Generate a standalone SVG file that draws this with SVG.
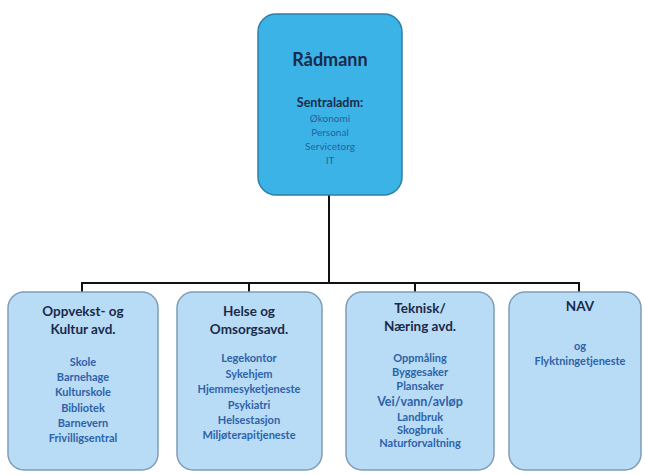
<svg xmlns="http://www.w3.org/2000/svg" width="645" height="475" viewBox="0 0 645 475">
<style>
.top{fill:#3bb3e6;stroke:#2f7fa6;stroke-width:1.5}
.box{fill:#b9dcf6;stroke:#7f9cb8;stroke-width:1.5}
.ttl{font-family:Lato,"Liberation Sans",sans-serif;font-weight:bold;fill:#1a2a4a;text-anchor:middle;font-size:13.5px}
.itm{font-family:Lato,"Liberation Sans",sans-serif;font-weight:bold;fill:#2e62a8;font-size:11px;text-anchor:middle}
.sub{font-family:Lato,"Liberation Sans",sans-serif;fill:#2a5f9e;font-size:10px;text-anchor:middle}
.con{stroke:#111;stroke-width:2;fill:none}
</style>
<rect width="645" height="475" fill="#fff"/>
<g id="connectors">
<path class="con" d="M329,195 V283 M82,283 H579 M82,282 V292 M249,282 V292 M415,282 V292 M579,282 V292"/>
</g>
<g id="radmann">
<rect class="top" x="258" y="14" width="144" height="181" rx="18"/>
<text class="ttl" x="330" y="66" style="font-size:18px">Rådmann</text>
<text class="ttl" x="330" y="107" style="font-size:12.5px">Sentraladm:</text>
<text class="sub" x="330" y="122">Økonomi</text>
<text class="sub" x="330" y="136">Personal</text>
<text class="sub" x="330" y="150">Servicetorg</text>
<text class="sub" x="330" y="164">IT</text>
</g>
<g id="oppvekst">
<rect class="box" x="8" y="292" width="150" height="178" rx="16"/>
<text class="ttl" x="83" y="316">Oppvekst- og</text>
<text class="ttl" x="83" y="334">Kultur avd.</text>
<text class="itm" x="83" y="366">Skole</text>
<text class="itm" x="83" y="381">Barnehage</text>
<text class="itm" x="83" y="396">Kulturskole</text>
<text class="itm" x="83" y="412">Bibliotek</text>
<text class="itm" x="83" y="427">Barnevern</text>
<text class="itm" x="83" y="442">Frivilligsentral</text>
</g>
<g id="helse">
<rect class="box" x="177" y="292" width="145" height="178" rx="16"/>
<text class="ttl" x="249" y="316">Helse og</text>
<text class="ttl" x="249" y="334">Omsorgsavd.</text>
<text class="itm" x="249" y="362">Legekontor</text>
<text class="itm" x="249" y="378">Sykehjem</text>
<text class="itm" x="249" y="393">Hjemmesyketjeneste</text>
<text class="itm" x="249" y="409">Psykiatri</text>
<text class="itm" x="249" y="424">Helsestasjon</text>
<text class="itm" x="249" y="439">Miljøterapitjeneste</text>
</g>
<g id="teknisk">
<rect class="box" x="346" y="292" width="148" height="178" rx="16"/>
<text class="ttl" x="420" y="313">Teknisk/</text>
<text class="ttl" x="420" y="331">Næring avd.</text>
<text class="itm" x="420" y="362">Oppmåling</text>
<text class="itm" x="420" y="376">Byggesaker</text>
<text class="itm" x="420" y="390">Plansaker</text>
<text class="itm" x="420" y="406" style="font-size:12.5px">Vei/vann/avløp</text>
<text class="itm" x="420" y="421">Landbruk</text>
<text class="itm" x="420" y="434">Skogbruk</text>
<text class="itm" x="420" y="447">Naturforvaltning</text>
</g>
<g id="nav">
<rect class="box" x="509" y="292" width="132" height="178" rx="16"/>
<text class="ttl" x="580" y="311">NAV</text>
<text class="itm" x="580" y="350">og</text>
<text class="itm" x="580" y="365">Flyktningetjeneste</text>
</g>
</svg>
